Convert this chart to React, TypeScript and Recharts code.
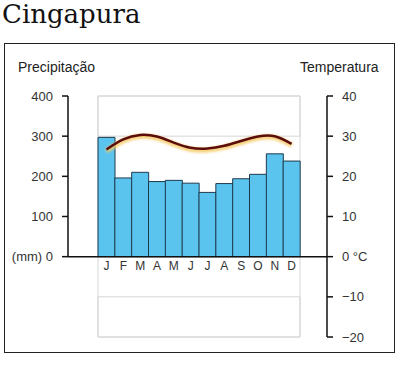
import React from 'react';
import { ComposedChart, Bar, Line, XAxis, YAxis, ReferenceLine, ReferenceArea, LabelList } from 'recharts';

const monthKeys = ['Jan', 'Feb', 'Mar', 'Apr', 'May', 'Jun', 'Jul', 'Aug', 'Sep', 'Oct', 'Nov', 'Dec'];
const monthLetters = ['J', 'F', 'M', 'A', 'M', 'J', 'J', 'A', 'S', 'O', 'N', 'D'];
const precipitation = [297, 196, 210, 187, 190, 183, 160, 182, 194, 205, 256, 238];
const temperature = [26.7, 29.2, 30.3, 29.9, 28.4, 27.1, 26.9, 27.6, 28.8, 29.9, 30.0, 28.1];
const precipTicks = [0, 100, 200, 300, 400];
const tempTicks = [-20, -10, 0, 10, 20, 30, 40];

const data = monthKeys.map((k, i) => ({ key: k, m: monthLetters[i], p: precipitation[i], t: temperature[i] }));

const W = 400;
const H = 366;
const MT = 96;
const MB = 29;
const PLOT_H = H - MT - MB;

const sans = '"Liberation Sans", Arial, Helvetica, sans-serif';

export default function App() {
  return (
    <div style={{ position: 'absolute', left: 0, top: 0, width: W, height: H, background: '#fff' }}>
      <style>{`.halo path{filter:url(#tglow);transform:translateY(1.5px);}`}</style>
      <div style={{ position: 'absolute', left: 2, top: 1, fontFamily: '"DejaVu Serif", serif', fontSize: 26, lineHeight: '26px', color: '#111', whiteSpace: 'nowrap' }}>Cingapura</div>
      <div style={{ position: 'absolute', left: 4, top: 43, width: 391, height: 310, boxSizing: 'border-box', border: '1.5px solid #222' }} />
      <div style={{ position: 'absolute', left: 18, top: 60, fontFamily: sans, fontSize: 14, lineHeight: '14px', color: '#222' }}>Precipitação</div>
      <div style={{ position: 'absolute', left: 300, top: 60, fontFamily: sans, fontSize: 14, lineHeight: '14px', color: '#222' }}>Temperatura</div>
      <div style={{ position: 'absolute', left: 0, top: 0 }}>
        <ComposedChart width={W} height={H} data={data} margin={{ top: MT, right: 0, bottom: MB, left: 0 }} barCategoryGap={0} barGap={0}>
          <defs>
            <filter id="tglow" x="-10%" y="-100%" width="120%" height="300%">
              <feGaussianBlur stdDeviation="1.3" />
            </filter>
          </defs>
          <XAxis dataKey="key" hide padding={{ left: 30, right: 27 }} />
          <YAxis
            yAxisId="p"
            orientation="left"
            width={68}
            type="number"
            domain={[-200, 400]}
            ticks={precipTicks}
            interval={0}
            tickFormatter={(v: number) => (v === 0 ? '(mm) 0' : String(v))}
            tickSize={6}
            tickMargin={9}
            axisLine={{ stroke: '#111', strokeWidth: 1.5, strokeDasharray: `${(PLOT_H * 4) / 6} ${PLOT_H}` }}
            tickLine={{ stroke: '#111', strokeWidth: 1.5 }}
            tick={{ fill: '#333', fontSize: 13, fontFamily: sans }}
          />
          <YAxis
            yAxisId="t"
            orientation="right"
            width={73}
            type="number"
            domain={[-20, 40]}
            ticks={tempTicks}
            interval={0}
            tickFormatter={(v: number) => (v === 0 ? '0 °C' : v < 0 ? '\u2212' + Math.abs(v) : String(v))}
            tickSize={6}
            tickMargin={9}
            axisLine={{ stroke: '#111', strokeWidth: 1.5 }}
            tickLine={{ stroke: '#111', strokeWidth: 1.5 }}
            tick={{ fill: '#333', fontSize: 13, fontFamily: sans }}
          />
          <ReferenceArea yAxisId="t" x1="Jan" x2="Dec" y1={-20} y2={40} fill="none" stroke="#d6d6d6" strokeWidth={1} />
          <ReferenceArea yAxisId="t" x1="Jan" x2="Dec" y1={30} y2={40} fill="none" stroke="#d6d6d6" strokeWidth={1} />
          <ReferenceArea yAxisId="t" x1="Jan" x2="Dec" y1={-20} y2={-10} fill="none" stroke="#d6d6d6" strokeWidth={1} />
          <Bar yAxisId="p" dataKey="p" fill="#5bc4ee" stroke="#1f3a4c" strokeWidth={1} isAnimationActive={false}>
            <LabelList dataKey="m" position="bottom" offset={5} fill="#333" fontSize={12} fontFamily={sans} />
          </Bar>
          <ReferenceLine yAxisId="t" y={0} stroke="#111" strokeWidth={1.5} />
          <Line className="halo" yAxisId="t" dataKey="t" type="natural" stroke="#f5c860" strokeWidth={5} strokeOpacity={0.8} dot={false} activeDot={false} isAnimationActive={false} />
          <Line yAxisId="t" dataKey="t" type="natural" stroke="#5c0d0b" strokeWidth={2.5} dot={false} activeDot={false} isAnimationActive={false} />
        </ComposedChart>
      </div>
    </div>
  );
}
